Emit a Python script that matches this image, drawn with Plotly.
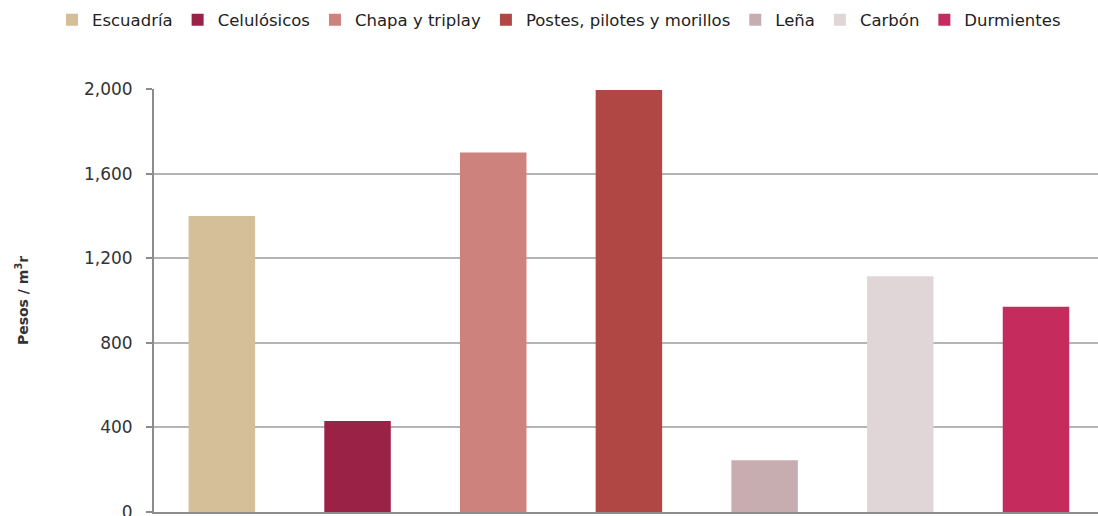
import plotly.graph_objects as go

categories = ["Escuadría", "Celulósicos", "Chapa y triplay", "Postes, pilotes y morillos", "Leña", "Carbón", "Durmientes"]
values = [1400, 430, 1700, 1995, 245, 1115, 970]
colors = ["#d4bf98", "#9b2247", "#cd827e", "#b04744", "#c8adb0", "#e0d6d8", "#c52c5d"]
y_ticks = [0, 400, 800, 1200, 1600, 2000]

FONT = "DejaVu Sans"
fig = go.Figure()
for cat, val, col in zip(categories, values, colors):
    fig.add_trace(go.Bar(x=[cat], y=[val], name=cat, marker=dict(color=col, line=dict(width=0)), width=0.49))

fig.update_layout(
    width=1098, height=516,
    barmode="overlay",
    plot_bgcolor="white", paper_bgcolor="white",
    margin=dict(l=154, r=0, t=89, b=4, autoexpand=False),
    font=dict(family=FONT, size=15, color="#333333"),
    legend=dict(orientation="h", x=(52 - 154) / 944, xanchor="left", y=1.163, yanchor="middle",
                font=dict(size=16.5, color="#222222"), itemwidth=30, tracegroupgap=0),
    showlegend=True,
)
fig.update_xaxes(type="category", categoryorder="array", categoryarray=categories,
                 range=[-0.5, 6.457], showticklabels=False, showgrid=False, automargin=False,
                 showline=True, linecolor="#8c8c8c", linewidth=2, ticks="")
fig.update_yaxes(range=[0, 2000], tickvals=y_ticks, tickformat=",", showgrid=True,
                 gridcolor="#b4b4b4", gridwidth=1.5, showline=True, linecolor="#8c8c8c",
                 linewidth=2, ticks="outside", ticklen=6, tickcolor="#8c8c8c", tickwidth=1.5,
                 ticklabelstandoff=10, ticklabeloverflow="allow", automargin=False,
                 tickfont=dict(size=17, color="#333333"), zeroline=False,
                 title=dict(text="<b>Pesos / m<sup>3</sup>r</b>", font=dict(size=14, color="#333333"), standoff=52))

fig.write_html("out.html", config={"displayModeBar": False},
               post_script="document.body.style.margin='0';")
